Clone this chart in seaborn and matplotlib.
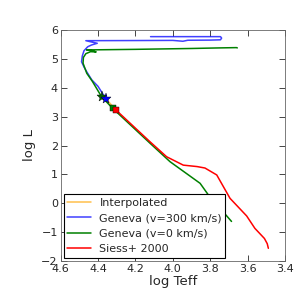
import numpy as np
import pandas as pd
import seaborn as sns
import matplotlib
matplotlib.use("Agg")
import matplotlib.pyplot as plt

# --- data ---
interp_teff = [4.358, 4.304]
interp_logl = [3.62, 3.23]

gen300_teff = [4.358, 4.40, 4.433, 4.46, 4.475, 4.488, 4.484, 4.475, 4.455, 4.435, 4.404,
               4.465, 4.20, 4.00, 3.946, 3.92, 3.80, 3.745, 3.739, 3.745, 3.90, 4.119]
gen300_logl = [3.62, 4.05, 4.27, 4.55, 4.72, 4.90, 5.10, 5.28, 5.42, 5.48, 5.54,
               5.63, 5.635, 5.64, 5.61, 5.645, 5.65, 5.66, 5.72, 5.77, 5.77, 5.77]

gen0_teff = [3.686, 3.81, 3.854, 4.015, 4.122, 4.322, 4.381, 4.43, 4.46, 4.48, 4.478,
             4.465, 4.44, 4.41, 4.435, 4.461, 4.20, 3.90, 3.75, 3.66, 3.655]
gen0_logl = [-0.63, 0.29, 0.69, 1.44, 2.08, 3.29, 3.69, 4.22, 4.50, 4.85, 5.05,
             5.18, 5.25, 5.24, 5.29, 5.31, 5.33, 5.36, 5.38, 5.39, 5.38]

siess_teff = [4.304, 4.122, 4.033, 3.944, 3.87, 3.828, 3.765, 3.694, 3.605, 3.561,
              3.51, 3.495, 3.489]
siess_logl = [3.23, 2.13, 1.61, 1.32, 1.27, 1.22, 0.98, 0.17, -0.44, -0.87,
              -1.22, -1.40, -1.56]

# start points (stars) and interpolated/reference points (squares)
star_teff = [4.381, 4.358]
star_logl = [3.69, 3.62]
star_cols = ["#006400", "blue"]
sq_teff = [4.322, 4.304]
sq_logl = [3.29, 3.23]
sq_cols = ["green", "red"]

sns.set_style("ticks", {"xtick.direction": "in", "ytick.direction": "in"})
plt.rcParams["font.family"] = ["DejaVu Sans"]
plt.rcParams["xtick.top"] = True
plt.rcParams["ytick.right"] = True

fig = plt.figure(figsize=(3, 3), dpi=100)
ax = fig.add_axes([0.202, 0.13, 0.748, 0.77])

tracks = [
    ("Interpolated", interp_teff, interp_logl, "orange", 0.7),
    ("Geneva (v=300 km/s)", gen300_teff, gen300_logl, "blue", 0.75),
    ("Geneva (v=0 km/s)", gen0_teff, gen0_logl, "green", 1.0),
    ("Siess+ 2000", siess_teff, siess_logl, "red", 1.0),
]
for name, t, l, c, a in tracks:
    df = pd.DataFrame({"teff": t, "logl": l})
    sns.lineplot(data=df, x="teff", y="logl", sort=False, estimator=None,
                 color=c, alpha=a, lw=1.1, label=name, ax=ax)

for t, l, c in zip(star_teff, star_logl, star_cols):
    ax.plot(t, l, marker="*", ms=8, color=c, mec="k", mew=0.3, ls="none")
for t, l, c in zip(sq_teff, sq_logl, sq_cols):
    ax.plot(t, l, marker="s", ms=5, color=c, mec="k", mew=0.3, ls="none")

ax.set_xlim(4.6, 3.4)
ax.set_ylim(-2, 6)
ax.set_xticks(np.arange(4.6, 3.39, -0.2))
ax.set_yticks(np.arange(-2, 7, 1))
ax.tick_params(labelsize=8, length=4, width=0.6, pad=2)
for s in ax.spines.values():
    s.set_linewidth(0.6)
    s.set_color("0.4")
ax.set_xlabel("log Teff", fontsize=9.5, labelpad=1)
ax.set_ylabel("log L", fontsize=9.5, labelpad=4)

leg = ax.legend(loc="lower left", fontsize=8, fancybox=False, framealpha=1,
                edgecolor="black", borderaxespad=0.3, handlelength=2.1,
                labelspacing=0.5, borderpad=0.3)
leg.get_frame().set_linewidth(0.8)

fig.savefig("out.png", dpi=100)
